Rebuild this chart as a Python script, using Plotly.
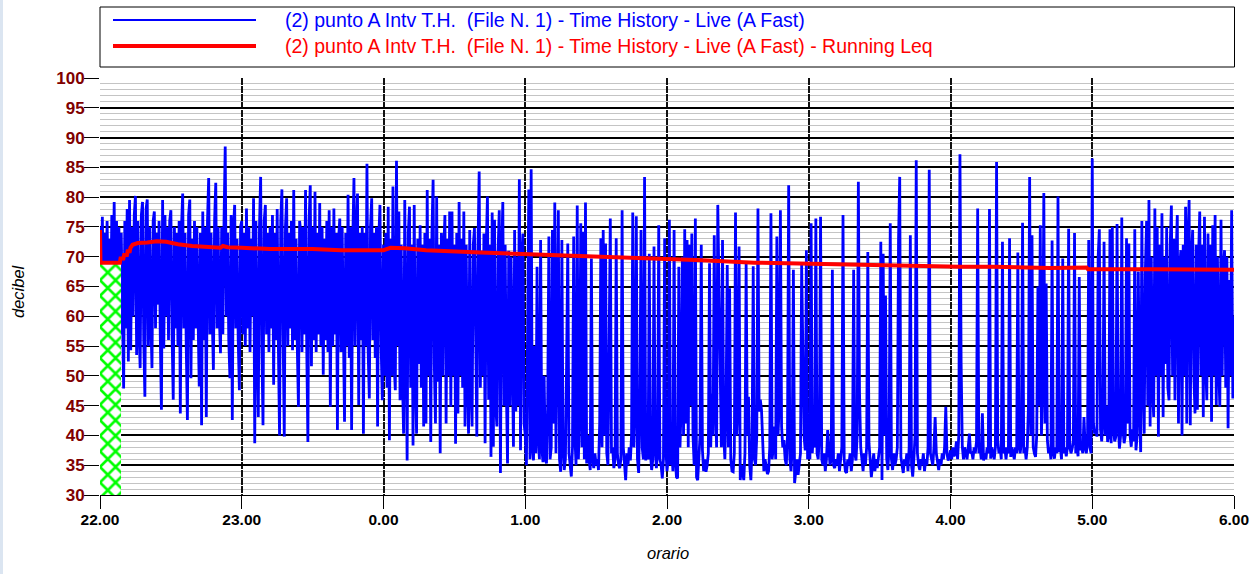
import numpy as np
import plotly.graph_objects as go

# ---------------- data ----------------
tick_minutes = [0, 60, 120, 180, 240, 300, 360, 420, 480]
tick_labels = ["22.00", "23.00", "0.00", "1.00", "2.00", "3.00", "4.00", "5.00", "6.00"]

# Time history (A Fast), dB, one value per 30 s
hour_22 = [75, 66, 76.7, 62, 74, 60, 76, 64, 73, 60, 77, 62, 79.2, 58, 76, 60, 75, 57, 74, 62,
           47.9, 76, 58, 78, 52.4, 79.5, 54.3, 75, 60, 77, 80.2, 53.5, 76, 58, 51.3, 77, 79.2, 56, 46.5, 78,
           79.6, 55, 75, 60, 51.3, 76, 77.6, 58, 74, 62, 76, 57, 44.3, 79.5, 54.6, 77, 60, 75, 56, 76,
           77.8, 57, 46, 75, 58, 74, 55, 76, 43.7, 75, 80.6, 58, 74, 55, 42.6, 77, 79.6, 49.6, 73, 56,
           76, 58, 75, 60, 48.2, 74, 41.7, 77.6, 56, 75, 43.1, 76, 83.2, 57, 74, 60, 51, 76, 82.4, 58,
           75, 60, 53.8, 75, 57, 76, 88.5, 60, 74, 56, 49.6, 77, 42.6, 75, 78.7, 58, 73, 56, 47.6, 75]
hour_23 = [76, 57, 74, 55, 78.1, 58, 75, 54, 73, 60, 79.8, 38.7, 76, 56, 43.1, 75, 83.4, 55, 41.7, 76,
           78.7, 57, 74, 54, 75, 58, 77, 48.5, 74, 56, 78, 55, 40, 76, 81.3, 57, 39.8, 75, 79.8, 55,
           74, 58, 76, 54.3, 81.2, 56, 73, 55, 44.8, 76, 74, 54, 75, 57, 81.2, 55, 38.9, 76, 82, 51.6,
           75, 56, 80.9, 54, 74, 57, 79, 55, 75, 50.2, 73, 56, 76, 54, 77.8, 44.8, 75, 55, 78.1, 57,
           74, 40.9, 73, 76.4, 54, 75, 56, 42.3, 74, 55, 80.4, 53, 75, 40.9, 73, 83.2, 55, 74, 80.6, 45.1,
           74, 56, 75, 40.3, 74, 55, 85.6, 54, 46.2, 75, 79.8, 56, 74, 53, 75, 41.5, 73, 78.7, 55, 45.9]
hour_00 = [72, 50, 74, 48, 78.4, 39.2, 73, 50, 81.8, 52, 47.6, 86.1, 55, 77.6, 45.9, 72, 50, 40.3, 79.5, 52,
           35.8, 74, 78.4, 48, 72, 38.3, 78.7, 50, 40.3, 73, 52, 75.3, 48, 72, 41.5, 74, 42, 81.2, 50, 73,
           38.9, 74, 82.9, 52, 42, 80.1, 49, 72, 37, 74, 50, 71, 77, 42, 73, 50, 77.6, 44.8, 77.6, 50,
           72, 38.6, 74, 43.7, 79.2, 50, 73, 48, 77.6, 41.5, 72, 50, 40.3, 74.5, 48, 41.5, 72, 74.8, 50, 39.8,
           72, 84.3, 48, 71, 50, 73.9, 38.7, 72, 80.1, 46, 72, 36.4, 77.4, 38.1, 76.2, 45, 41.5, 71, 77.8, 33.7,
           70, 79.2, 45, 72, 48, 35.3, 71, 45, 70, 50, 38.1, 74.5, 44, 70, 45, 83, 37.5, 70, 73.9, 42]
hour_01 = [40, 35, 60, 81.3, 36, 84.7, 38, 35.8, 55, 37, 68.3, 40, 36, 72.8, 38, 35.5, 50, 36, 35.3, 45,
           73.4, 36, 38, 74.5, 42, 79.1, 37, 55, 77.8, 36, 33.9, 72.8, 38, 34.2, 36, 52, 72.2, 37, 35, 33.1,
           38, 73.4, 40, 35, 78.6, 36, 45, 75.6, 38, 74.2, 36, 79.1, 35.3, 40, 36, 34.2, 69.7, 36, 34.5, 37,
           35, 36, 34.2, 42, 73.1, 38, 74.5, 40, 72.2, 37, 35, 55, 76.4, 37, 38, 34.5, 36, 73.1, 37, 35,
           34.5, 36, 77.8, 38, 35, 32.5, 37, 35, 38, 35.8, 40, 77.4, 38, 45, 76.8, 36, 33.7, 45, 74.5, 38,
           36, 83.4, 35.8, 38, 36, 70.5, 37, 34.2, 36, 71.7, 38, 34.5, 37, 75.3, 36, 35, 32.8, 36, 73.1, 38]
hour_02 = [34, 36, 76.2, 35, 38, 34, 74.5, 36, 33, 32.8, 68.3, 38, 45, 70, 40, 74.6, 42, 72.8, 38, 72,
           45, 73.9, 40, 35, 76.4, 33, 32.5, 36, 40, 72, 37.5, 34, 36, 33.9, 35, 37, 68.9, 38, 47, 40,
           73.6, 45, 38, 78.7, 63.8, 43.7, 38, 72.8, 40, 36, 45, 68.6, 38, 64.7, 36, 34, 33.9, 37, 77.4, 40,
           45, 71.7, 32.5, 35, 34, 32.5, 37, 68.9, 40, 46.5, 35, 32.5, 38, 68.4, 36, 35, 40, 78.1, 44, 46,
           44.3, 38, 34, 36, 35, 33.5, 34, 38, 77.3, 36, 38, 41.5, 36, 73.4, 40, 45, 77.8, 41.5, 38, 39.2,
           36, 35, 40, 82, 36, 34, 38, 67.8, 32, 34, 36, 33.4, 35, 37, 68.6, 55, 40, 37.5, 71.1, 36]
hour_03 = [37.5, 36, 75.6, 37, 41, 38, 76.4, 37, 36, 40, 76.7, 36, 35, 37, 34, 36, 40.9, 38, 35, 36,
           67.8, 35, 34.5, 36, 35, 37, 34, 36, 38, 77, 36, 34, 33.7, 36, 35, 37, 34, 36, 67.8, 37,
           35.8, 40, 82.6, 47, 38, 36, 34, 37, 35, 38, 70.8, 38.7, 36, 33, 35, 37, 34, 36, 34.5, 36,
           38, 72.5, 32.5, 70.5, 40, 63.5, 36, 34.2, 38, 75.6, 36, 34.2, 37, 35, 36, 38, 72.8, 83.4, 36.4, 35,
           33.7, 36, 35, 37, 34, 38, 73.6, 35, 33.1, 36, 40, 86.2, 37, 35, 34.2, 36, 35, 37, 34, 36,
           35, 38, 84.6, 37, 36, 35, 38, 43.1, 37, 35, 34.2, 36, 35, 37, 36, 38, 44.8, 37, 35.8, 36.4]
hour_04 = [37.5, 36, 38, 36.5, 37, 39, 36, 40, 87.2, 52.1, 38.1, 36, 38, 37, 36, 38, 40.3, 37, 37.2, 36,
           38, 37, 39, 78.1, 37, 38, 36, 43.7, 35.8, 37, 36, 38, 37, 78, 36.1, 38, 37, 36, 38, 85.9,
           39.2, 37, 38, 36, 72.5, 37, 38, 36, 38, 37, 73.1, 36.4, 38, 37, 36, 38, 37, 70.7, 38.1, 37,
           39, 75.7, 37, 38, 36, 38, 45, 83.4, 40, 73.6, 38.1, 37, 36.4, 40, 65, 45, 75.3, 40, 50, 80.7,
           42, 65.5, 39.2, 37, 38, 36, 72.7, 37, 36.1, 38, 37, 80.1, 37.2, 38, 36, 69.7, 37, 38, 36.5, 38,
           74.7, 38, 37, 37.8, 39, 74, 37, 38, 36.5, 66.6, 37.5, 38, 37, 43.1, 38, 37, 39, 72.8, 38, 37]
hour_05 = [86.5, 42, 40.3, 41, 39.8, 70, 74.6, 41, 39, 42.6, 72.5, 40, 45, 38.9, 40, 74.6, 38.7, 75, 41, 39,
           39.8, 75.5, 42, 37.8, 40, 76.6, 41, 38.7, 40, 73.1, 42, 72.2, 40, 38.1, 41, 39, 74.6, 37.5, 40, 67.5,
           45, 37.2, 76, 50, 40.3, 68, 76, 45, 79.5, 41.5, 70, 48, 43.1, 78.1, 50, 75, 39.8, 72, 50, 77.3,
           43.1, 70, 52, 75, 48, 45.9, 72, 78.6, 50, 73, 45.9, 70, 77, 42, 68, 71.1, 40, 72, 50, 78.4,
           42, 73, 79.5, 41.7, 70, 74.5, 50, 43.7, 72, 44.3, 70, 77.6, 50, 72, 43.1, 76.7, 52, 45.9, 73.9, 50,
           72, 42.3, 75.3, 50, 77, 45.1, 70, 52, 44.8, 76.2, 50, 68, 71.1, 48, 70, 41.2, 66.1, 50, 77.8, 46.2]
value_at_6 = 60

# Running Leq (minutes since 22:00, dB)
leq_minutes = [0, 0.2, 8.4, 8.7, 9.9, 10.2, 11.4, 11.7, 12.6, 12.9, 13.8, 16, 20, 24, 28, 33, 39, 45, 51, 52,
               54, 60, 72, 90, 102, 120, 123, 129, 138, 161, 189, 212, 241, 255, 277, 301, 322, 338, 350, 364,
               378, 402, 417.6, 418.2, 444.6, 480]
leq_db = [74.5, 69.0, 69.0, 69.7, 69.7, 70.3, 70.3, 70.9, 70.9, 71.5, 72.0, 72.3, 72.4, 72.6, 72.5, 72.1, 71.8, 71.6, 71.5, 71.8,
          71.6, 71.5, 71.3, 71.3, 71.1, 71.1, 71.5, 71.4, 71.1, 70.7, 70.3, 70.0, 69.7, 69.4, 69.0, 68.8, 68.6, 68.4, 68.4, 68.3,
          68.3, 68.1, 68.2, 67.9, 67.9, 67.8]

# excluded (hatched) interval at the start
hatch_end_min = 8.9
hatch_top_db = 69.0
y_lo, y_hi = 30, 100

legend_names = ["(2) punto A Intv T.H.\u00a0 (File N. 1) - Time History - Live (A Fast)",
                "(2) punto A Intv T.H.\u00a0 (File N. 1) - Time History - Live (A Fast) - Running Leq"]
BLUE = "#0000ff"
RED = "#ff0000"

# ---------------- figure ----------------
W, H = 1255, 574
ML, MR, MT, MB = 100, 21, 78, 79
PW, PH = W - ML - MR, H - MT - MB


def px(xp):
    return (xp - ML) / PW


def py(yp):
    return (H - MB - yp) / PH


hours = [hour_22, hour_23, hour_00, hour_01, hour_02, hour_03, hour_04, hour_05]
t_parts, v_parts = [], []
for h, vals in enumerate(hours):
    n = len(vals)
    t_parts.append(h * 60 + np.arange(n) * 60.0 / n)
    v_parts.append(np.array(vals, dtype=float))
t = np.concatenate(t_parts + [np.array([480.0])])
blue = np.concatenate(v_parts + [np.array([value_at_6], dtype=float)])

fig = go.Figure()
fig.add_trace(go.Scatter(x=t, y=blue, mode="lines", line=dict(color=BLUE, width=2.8),
                         showlegend=False, hoverinfo="skip"))
fig.add_trace(go.Scatter(x=[0, hatch_end_min, hatch_end_min, 0, 0],
                         y=[y_lo, y_lo, hatch_top_db, hatch_top_db, y_lo],
                         mode="lines", fill="toself", line=dict(width=0, color="rgba(0,0,0,0)"),
                         fillcolor="white",
                         fillpattern=dict(shape="x", fgcolor="#00ff00", bgcolor="white", fgopacity=1,
                                          size=11, solidity=0.42),
                         showlegend=False, hoverinfo="skip"))
fig.add_trace(go.Scatter(x=leq_minutes, y=leq_db, mode="lines", line=dict(color=RED, width=4),
                         showlegend=False, hoverinfo="skip"))

fig.update_layout(
    width=W, height=H,
    margin=dict(l=ML, r=MR, t=MT, b=MB, autoexpand=False),
    paper_bgcolor="white", plot_bgcolor="white",
    showlegend=False,
    font=dict(family="Liberation Sans, Arial, sans-serif"),
)
fig.update_xaxes(
    range=[0, 480], tickvals=tick_minutes, ticktext=tick_labels, automargin=False,
    showgrid=True, gridcolor="#111111", gridwidth=1.5, griddash="7px,1px",
    ticks="outside", ticklen=13, tickcolor="black", tickwidth=1,
    tickfont=dict(size=15.5, color="black", weight="bold"), ticklabelstandoff=-3,
    zeroline=False, showline=True, linecolor="black", linewidth=1,
)
fig.update_yaxes(
    range=[y_lo, y_hi], tick0=30, dtick=5, automargin=False,
    showgrid=True, gridcolor="black", gridwidth=1.5,
    minor=dict(dtick=1, showgrid=True, gridcolor="#c4c4c4", gridwidth=1),
    ticks="outside", ticklen=15, tickcolor="black", tickwidth=1,
    tickfont=dict(size=17, color="#800000", weight="bold"), ticklabelstandoff=-4,
    zeroline=False, showline=False,
)

shapes = []
# legend box
shapes.append(dict(type="rect", xref="paper", yref="paper", x0=px(100), x1=px(1234.5), y0=py(67), y1=py(7),
                   line=dict(color="black", width=1), fillcolor="white", layer="above"))
shapes.append(dict(type="line", xref="paper", yref="paper", x0=px(113), x1=px(256), y0=py(20), y1=py(20),
                   line=dict(color=BLUE, width=2)))
shapes.append(dict(type="line", xref="paper", yref="paper", x0=px(113), x1=px(256), y0=py(46), y1=py(46),
                   line=dict(color=RED, width=4)))
# left window strip
shapes.append(dict(type="rect", xref="paper", yref="paper", x0=px(0), x1=px(3), y0=py(H), y1=py(0),
                   line=dict(width=0), fillcolor="#dbe5f1"))

annotations = [
    dict(xref="paper", yref="paper", x=px(283), y=py(20), xanchor="left", yanchor="middle", showarrow=False,
         text=legend_names[0], font=dict(size=19.5, color=BLUE)),
    dict(xref="paper", yref="paper", x=px(283), y=py(46), xanchor="left", yanchor="middle", showarrow=False,
         text=legend_names[1], font=dict(size=19.5, color=RED)),
    dict(xref="paper", yref="paper", x=px(18), y=py(291), xanchor="center", yanchor="middle", showarrow=False,
         text="<i>decibel</i>", textangle=-90, font=dict(size=16.5, color="black")),
    dict(xref="paper", yref="paper", x=px(668), y=py(553), xanchor="center", yanchor="middle", showarrow=False,
         text="<i>orario</i>", font=dict(size=16.5, color="black")),
]
fig.update_layout(shapes=shapes, annotations=annotations)

fig.write_html("out.html", config={"displayModeBar": False},
               post_script="document.body.style.margin='0px';document.body.style.overflow='hidden';")
